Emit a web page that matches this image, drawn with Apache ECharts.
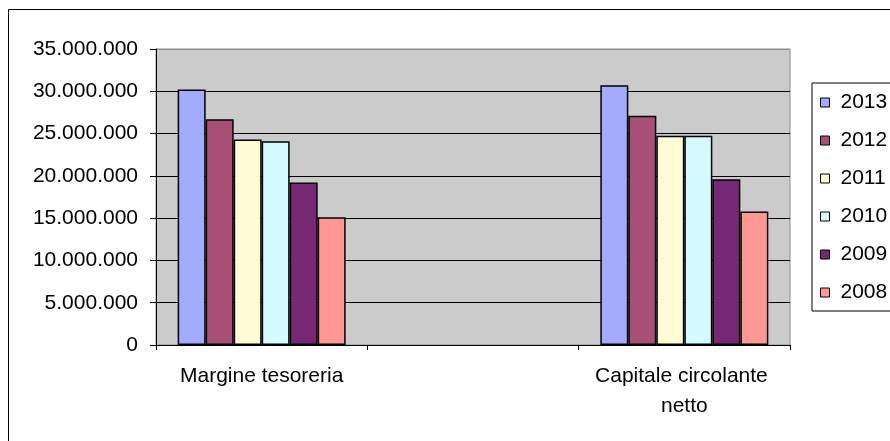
<!DOCTYPE html>
<html>
<head>
<meta charset="utf-8">
<script src="https://cdn.jsdelivr.net/npm/echarts@6/dist/echarts.min.js"></script>
<style>
  html, body { margin: 0; padding: 0; background: #fff; }
  #chart { width: 890px; height: 441px; }
</style>
</head>
<body>
<div id="chart"></div>
<script>
// Categories (the middle slot is an empty spacer category)
const categories = ['Margine tesoreria', '', 'Capitale circolante netto'];
const years = ['2013', '2012', '2011', '2010', '2009', '2008'];

// Values per year, one entry per category
const v2013 = [30200000, null, 30700000];
const v2012 = [26700000, null, 27100000];
const v2011 = [24300000, null, 24750000];
const v2010 = [24100000, null, 24750000];
const v2009 = [19200000, null, 19600000];
const v2008 = [15100000, null, 15800000];

const yearColors = ['#A3ACFC', '#A84F76', '#FFFBD5', '#D3FBFE', '#772874', '#FF9892'];
const seriesValues = [v2013, v2012, v2011, v2010, v2009, v2008];

const FONT = '"Liberation Sans", Arial, sans-serif';

function formatThousands(v) {
  return String(v).replace(/\B(?=(\d{3})+(?!\d))/g, '.');
}

const chart = echarts.init(document.getElementById('chart'), null, { renderer: 'canvas' });

chart.setOption({
  animation: false,
  backgroundColor: '#ffffff',
  textStyle: { fontFamily: FONT, color: '#000' },
  graphic: [{
    type: 'rect',
    shape: { x: 8.5, y: 9.5, width: 1000, height: 1000 },
    style: { fill: 'none', stroke: '#000', lineWidth: 1 },
    silent: true,
    z: 100
  }],
  grid: {
    left: 156, top: 49, right: 100, bottom: 96,
    show: true,
    backgroundColor: '#CBCBCB',
    borderColor: '#8C8C8C',
    borderWidth: 1
  },
  legend: {
    orient: 'vertical',
    left: 812, top: 83,
    data: years,
    icon: 'rect',
    itemWidth: 9, itemHeight: 9,
    itemGap: 17,
    padding: [9, 30, 8, 8],
    borderColor: '#000',
    borderWidth: 1,
    backgroundColor: '#fff',
    selectedMode: false,
    itemStyle: { borderColor: '#000', borderWidth: 1 },
    textStyle: { fontFamily: FONT, fontSize: 21, color: '#000', lineHeight: 21, padding: [0, 0, 0, 6] }
  },
  xAxis: {
    type: 'category',
    data: categories,
    boundaryGap: true,
    axisLine: { show: true, lineStyle: { color: '#000', width: 1 } },
    axisTick: { show: true, length: 5, lineStyle: { color: '#000' } },
    axisLabel: {
      fontFamily: FONT, fontSize: 21, color: '#000',
      margin: 16, lineHeight: 30,
      width: 200, overflow: 'break', interval: 0
    },
    splitLine: { show: false }
  },
  yAxis: {
    type: 'value',
    min: 0, max: 35000000, interval: 5000000,
    axisLine: { show: true, lineStyle: { color: '#000', width: 1 } },
    axisTick: { show: true, length: 6, lineStyle: { color: '#000' } },
    axisLabel: {
      fontFamily: FONT, fontSize: 21, color: '#000', margin: 18,
      formatter: formatThousands
    },
    splitLine: {
      show: true,
      lineStyle: {
        color: ['#000', '#000', '#000', '#000', '#000', '#000', '#000', '#8C8C8C'],
        width: 1
      }
    }
  },
  series: years.map((y, i) => ({
    name: y,
    type: 'bar',
    data: seriesValues[i],
    barGap: '0%',
    barCategoryGap: '20.5%',
    itemStyle: { color: yearColors[i], borderColor: '#000', borderWidth: 1.5 }
  }))
});
</script>
</body>
</html>
